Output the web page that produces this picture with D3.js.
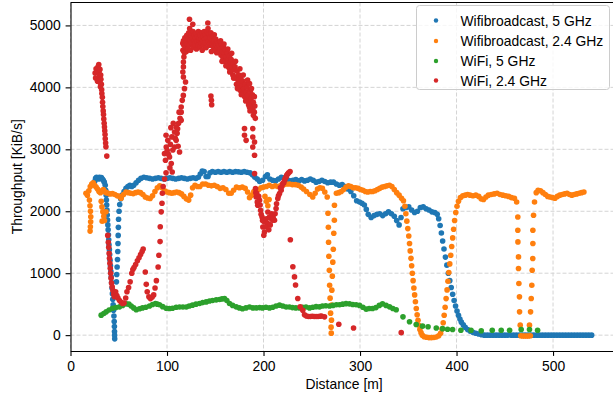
<!DOCTYPE html>
<html><head><meta charset="utf-8">
<script src="https://cdn.jsdelivr.net/npm/d3@7"></script>
<style>
body{margin:0;background:#fff}
svg{display:block}
text{font-family:"Liberation Sans",Arial,Helvetica,sans-serif;fill:#000}
</style>
</head><body>
<svg id="c" width="613" height="396"></svg>
<script>
const seriesNames = ["Wifibroadcast, 5 GHz","Wifibroadcast, 2.4 GHz","WiFi, 5 GHz","WiFi, 2.4 GHz"];
const seriesColors = ["#1f77b4","#ff7f0e","#2ca02c","#d62728"];
const xTicks = [0,100,200,300,400,500];
const yTicks = [0,1000,2000,3000,4000,5000];
const xLabel = "Distance [m]";
const yLabel = "Throughput [KiB/s]";

const wbc5 = [
[25,2480],[26,2530],[27,2550],[28,2540],[29,2520],[30,2550],[31,2530],[32,2545],[33,2520],[34,2500],[35,2470],[36,2420],
[36.5,2340],[37,2260],[37.2,2180],[37.5,2100],[37.8,2020],[38.1,1940],[38.4,1860],[38.7,1780],[39,1700],[39.3,1620],[39.6,1540],[39.9,1460],[40.3,1380],[40.6,1300],[41,1210],[41.4,1120],[41.8,1030],[42.2,940],[42.6,850],[43,760],[43.4,670],[43.8,580],[44.2,490],[44.6,400],[45,310],[45.3,220],[45.5,140],[45.6,60],[45.7,0],[45.8,-60],
[47.6,860],[47.9,980],[48.3,1100],[48.7,1220],[49,1350],[49.2,1480],[49.4,1610],[49.6,1740],[49.8,1870],[50.3,2000],[51,2110],[52,2200],[53.5,2260],[55.5,2320],[57.5,2370],[59.5,2400],[61.5,2420],[63.5,2400],[65.5,2420],[68,2460],[70.5,2500],[73,2530],
[76,2550],[79,2540],[82,2530],[85,2520],[88,2530],[91,2540],[94,2530],[97,2520],[100,2530],[103,2540],[106,2530],[109,2520],[112,2530],[115,2540],[118,2530],[121,2520],[124,2530],[127,2540],[130,2530],[132.5,2550],
[134.5,2600],[136.5,2650],[138.5,2640],[140.5,2560],[142.5,2560],[144.5,2620],
[147,2640],[150,2630],[153,2640],[156,2630],[159,2640],[162,2630],[165,2640],[168,2630],[171,2640],[174,2635],[177,2630],[180,2640],[183,2630],[186,2620],[188.5,2590],[191,2550],[193.5,2520],[196,2480],[199,2500],[202,2560],[204,2590],[206.5,2520],[209.5,2500],[212.5,2490],[215.5,2520],[218.5,2550],[221.5,2540],[224.5,2510],[227.5,2490],[230.5,2500],[233.5,2510],[236.5,2490],
[239.5,2510],[242.5,2490],[245.5,2500],[248.5,2520],[251.5,2500],[254.5,2470],[257.5,2480],[260.5,2500],[263.5,2480],[266.5,2460],[269.5,2470],[272.5,2470],[275.5,2440],[278.5,2420],[281.5,2430],[284.5,2400],[287.5,2360],[290.5,2320],[293.5,2250],[296.5,2170],[299.5,2150],[302,2130],[304.5,2100],[306.5,2030],[308.5,1950],
[311.5,1900],[314.5,1930],[317.5,1950],[320.5,1960],[323.5,1930],[326.5,1960],[329.5,1990],[332.5,1960],[335.5,1920],[338,1850],[340.5,1780],[342.5,1900],[344.5,2040],[347.5,2060],[350.5,2070],[353.5,2020],[356.5,1980],[359.5,2000],[362.5,2060],[365.5,2070],[368.5,2040],[371.5,2020],[374.5,1990],[377.5,1980],[380,1950],
[381.5,1880],[383,1770],[384.3,1650],[385.6,1520],[387,1390],[388.5,1260],[390,1130],[391.5,1000],[393,880],[394.5,770],[396,660],[397.5,560],[399,470],[400.5,390],[402,320],[403.5,260],[405,210],[407,165],[409,125],[411.5,90],[414,65],[417,45],[420,30],[423,18],[426,8],
[429,0],[432,0],[435,0],[438,0],[441,0],[444,0],[447,0],[450,0],[453,0],[456,0],[459,0],[462,0],[465,0],[468,0],[471,0],[474,0],[477,0],[480,0],[483,0],[486,0],[489,0],[492,0],[495,0],[498,0],[501,0],[504,0],[507,0],[510,0],[513,0],[516,0],[519,0],[522,0],[525,0],[528,0],[531,0],[534,0],[537,0],[540,0]
];

const wbc24 = [
[16,2290],[17.5,2260],[19,2330],[20.5,2400],[22,2440],[23.5,2460],[25,2420],[26.5,2390],[28,2360],[29.5,2320],[31,2300],[32.5,2330],[34,2350],[35.5,2320],[37,2300],
[19.6,2180],[20.2,2090],[20.7,2000],[21,1910],[20.9,1830],[20.6,1750],[20.3,1680],
[31.8,2160],[32.6,2070],[33.5,1990],[34.5,1920],[32.8,1840],[35.2,1850],[36.8,1990],
[39,2290],[41,2280],[43.5,2285],[46,2270],[48.5,2250],[50.8,2240],[52.5,2210],[55,2270],[57.5,2310],[60,2300],[62.5,2290],[65,2285],[67.5,2300],[70,2310],[72.5,2300],[75,2270],[77.5,2230],[80,2215],[82.5,2205],[85,2250],[87.5,2320],[90,2380],[92.5,2410],[95,2380],[97.5,2330],[100,2310],[102.5,2300],[105,2290],[107.5,2300],[110,2310],[112.5,2300],[115,2280],[117.5,2240],[120,2200],[122.5,2180],[124.5,2260],[126.5,2380],[129,2420],[131.5,2400],[134,2400],[137,2440],[140,2440],[143,2420],[146,2410],[149,2420],[152,2400],[155,2370],[158,2380],[161,2350],[164,2290],[166.5,2290],[169,2340],[172,2390],[175,2380],[178,2390],[181,2370],[183.5,2310],[185.5,2220],[187.5,2260],[190,2320],[192.5,2340],[195,2350],[197.5,2380],[200,2390],[203,2400],[206,2420],[209,2400],[212,2410],[215,2400],[218,2420],[221,2430],[224,2440],[227,2440],[230,2430],[233,2430],[236,2420],[239,2390],[241.5,2360],[244.5,2320],[248,2270],[251,2230],[253.5,2290],[256,2360],[258.5,2380],[261,2370],[263.5,2310],[266,2230],
[201.5,2240],[203,2160],[204.5,2090],[205.8,2190],
[266.8,1968],[267.2,1742],[267.4,1500],[267.7,1274],[268.2,1048],[268.5,806],[269,597],[269.5,355],[270,129],
[273.5,2097],[273.4,1855],[272.8,1645],[272.3,1387],[271.8,1178],[271.3,952],[270.8,726],[270.5,484],[270.4,242],[270.2,32],
[275.5,2290],[278,2300],[280.5,2320],[283,2350],[285.5,2390],[288,2410],[290.5,2400],[293,2380],[295.5,2380],[298,2370],[300.5,2350],[303,2340],[305.5,2320],[308,2310],[310.5,2320],[313,2320],[315.5,2330],[318,2350],[320.5,2370],[323,2390],[325.5,2400],[328,2410],[330.5,2420],[333,2400],[335.5,2350],[338,2300],[340.5,2260],[343,2210],[345,2170],
[346.5,2080],[347.5,1960],[348.5,1840],[349.5,1720],[350.5,1600],[351.3,1480],[352,1360],[352.8,1240],[353.5,1120],[354.2,1000],[355,880],[355.8,760],[356.6,650],[357.4,540],[358.3,430],[359.2,330],[360.1,240],[361,160],[362,90],[363.2,40],[364.5,0],[366.5,-25],[369,-35],[371.5,-40],[374,-40],[376.5,-38],[379,-30],[381.5,-10],[383.5,30],[385,100],[386.2,200],[387.2,320],[388.2,450],[389.2,590],[390.2,730],[391.1,870],[392,1010],[393,1150],[394,1290],[395,1430],[396,1570],[397,1710],[398,1850],[399.2,1980],[400.5,2080],[402,2160],[404,2220],[406.5,2250],[409,2260],[411.5,2270],[414,2260],[417,2250],[420,2260],[423,2240],[425.5,2200],[428,2190],[430.5,2230],[433,2260],[436,2270],[439,2280],[442,2290],[445,2270],[448,2260],[451,2250],[454,2240],[457,2220],[460,2210],[462.3,2150],
[463.5,1908],[463.5,1694],[463.6,1505],[464.2,1263],[464.2,1075],[464.6,834],[465.2,618],[465.3,376],[466,161],
[466.5,-10],[468.5,-15],[470.5,-15],[472.5,-15],[474.5,-15],[476.5,-10],
[479.8,1936],[479.1,1694],[479.1,1479],[479,1237],[478.4,1048],[478,806],[477.4,592],[476.7,376],[475.6,161],
[480.8,2150],[482.6,2300],[484.5,2340],[487,2330],[489.5,2300],[492,2270],[494.5,2240],[497,2230],[499.5,2220],[502,2210],[504.5,2240],[507,2260],[509.5,2270],[512,2280],[514.5,2290],[517,2270],[519.5,2260],[522,2270],[524.5,2280],[527,2290],[529.5,2300],[532,2310]
];

const wifi5 = [
[31.8,323],[34.5,350],[37,376],[40,405],[43.5,435],[47,447],[50.8,457],[54,480],[57.7,505],[60.5,500],[62.9,470],[65.5,440],[68.1,410],[71.5,425],[74.6,440],[78,450],[81.9,470],[85,495],[88,510],[90,500],[92.2,490],[95.5,460],[99.2,435],[102.5,430],[105.7,435],[109.5,450],[113,455],[116.5,455],[120,455],[123,470],[126.4,484],[130,500],[133.7,511],[137,525],[140.6,537],[144,550],[147.2,560],[151,570],[154.4,575],[157,585],[159.6,592],[162,560],[164.8,511],[168,480],[171.7,457],[175,440],[178.2,425],[181.8,440],[185.5,455],[189,440],[192.4,440],[196,445],[199,440],[202.5,450],[206.2,440],[209.5,450],[213,470],[216.6,484],[220,470],[223.5,455],[226.9,455],[230,445],[233.5,440],[237.3,440],[240.5,450],[244,455],[247.7,440],[251,450],[254.5,460],[258,457],[261,470],[264.5,475],[268.4,470],[272,480],[275.5,490],[278.8,490],[282,500],[285.5,508],[289.1,505],[292.5,495],[296,490],[299.5,480],[303,450],[306.4,420],[309.5,430],[313,430],[316.5,445],[320,480],[323.3,505],[327,480],[330.6,457],[334,430],[337.5,410],
[344.5,295],[351.3,215],[358.2,172],[364.8,145],[370.5,135],[379,115],[385.5,105],[390.7,95],[395.9,92],[404.5,80],[415,80],[425.6,72],[437,80],[446.3,80],[455,80],[467,90],[475.6,90],[484,80]
];

const wifi24 = [
[25.5,4230],[26,4150],[26.5,4300],[27.5,4260],[28,4100],[28.5,4330],[29.3,4370],[29.5,4240],[30,4180],[30.5,4290],[30.5,4080],[31.3,4200],[31.5,4130],[32,4050],[31,4010],[32.3,3960],
[32.5,3900],[33,3840],[33.2,3760],[33.5,3690],[33.9,3620],[34.2,3560],[34.5,3490],[34.9,3420],[35.2,3360],[35.5,3300],[35.8,3240],[36,3170],[36.4,3100],[36.7,3040],[37.6,2890],
[38.6,1610],[39.2,1500],[39.6,1420],[40,1320],[40.4,1240],[40.8,1160],[41.2,1080],[41.6,1000],[42,920],[42.5,840],[43.2,780],[44,720],[44.8,660],[45.5,620],[46.8,700],[48,640],[49.2,600],[50.8,560],[52.5,530],[54,510],[55.5,520],[57.2,600],[58.5,700],[60.2,770],[61.8,860],[63.5,1000],[64.6,1060],[65.8,1090],[67.5,1140],[69.3,1200],[71,1250],[72.6,1300],[74.2,1350],[75.3,1390],[77.5,1020],[78.5,820],[79.5,700],[81.2,620],[82.8,590],[84.5,610],[86.2,650],[87.6,760],[89,880],[90.8,1100],[91.6,1290],[92.8,1510],[93,1750],[94,1990],[94.8,2130],[95.2,2290],[96,2400],[97.5,2520],[99,2620],
[97.4,2930],[98.4,2823],[99,3226],[99.2,3037],[100.2,2980],[100.8,3145],[101.5,2920],[102.6,2876],[103,2700],[103.5,3080],[104.4,2769],[105,3200],[105.4,2634],[106,2990],[107.8,3037],[107.8,3280],[108.5,3180],[109.5,3145],[109.5,3360],[110.5,3260],[111,3330],[112,3420],[113,2957],[113.5,3500],[114.7,3468],[114.7,3600],[114.7,3683],[115.8,3790],[116.9,3870],[118.1,3979],[119.2,4086],[117,4167],[116.4,4247],[117,4330],[117,4408],[117.5,4490],[118.1,4570],[116.4,4710],
[104,3350],[106.5,3420],[111.5,3050],[112.5,3600],
[116.5,4600],[117,4750],[117.5,4680],[118,4560],[118.5,4800],[119,4650],[119.5,4720],[120,4580],[120.5,4840],[121,4700],[121.5,4620],[122,4780],[122.5,4880],[123.3,5100],[123.5,4950],[123,4680],[124,4760],[124.5,4600],[125,4850],[125.5,4720],[126,4800],[126.7,5020],[127,4900],[127.5,4650],[128,4760],[128.5,4850],[129,4700],[129.5,4800],[130,4870],[130.5,4620],[131,4740],[131.5,4820],[132,4680],[132.5,4900],[133,4760],[133.5,4800],[134,4650],[134.5,4850],[135,4720],[135.5,4780],[136,4880],[136.5,4600],[137,4750],[137.5,4820],[138,4680],[138.5,4900],[139,4780],[139.5,4720],[140,4850],[140.5,4640],[141,4800],[141.5,4900],[142.3,5040],[142.5,4950],[143,4750],[143.5,4850],[144,4680],[144.5,4800],[145,4720],[145.5,4880],[146,4580],[146.5,4780],[147,4700],[147.5,4820],[148,4650],[148.5,4750],[149,4850],[149.5,4700],[150,4600],[150.5,4780],[151,4690],[151.5,4560],[152,4740],[152.5,4650],[153,4710],[153.5,4570],[154,4680],
[155,4620],[156,4520],[156.5,4700],[157.5,4580],[158,4480],[158.5,4650],[159.5,4550],[160,4420],[160.5,4600],[161.3,4500],[162,4380],[162.5,4560],[163.5,4450],[164,4320],[164.8,4500],[165.5,4400],[166,4260],[166.5,4450],[167.5,4330],[168.2,4200],[168.5,4380],[169.5,4280],[170,4150],[170.5,4330],[171.7,4170],[172,4050],[172.5,4260],[173.5,4120],[174,4000],[174.5,4200],[175.1,4060],[176,3950],[176.5,4150],[177.5,4020],[178.5,3900],[178.5,4100],[179.5,3980],[180.5,3850],[181,4050],[182,3920],[182.5,3800],[183,4000],[184,3870],[185,3760],[185.5,4060],[186.5,3950],[187,3820],[187.5,3700],[188.5,3880],[189,3640],[189.5,3760],[190.5,3600],[191,3700],
[155.5,4750],[157,4420],[159,4700],[161,4350],[163,4620],[165,4250],[167,4550],[169,4150],[171,4420],[173,3980],[175.5,4300],[177,3880],[179,4200],[181.5,3780],[183.5,4120],[185.5,3680],[187.5,3980],[189.5,3550],[190.5,3850],[191.5,3500],[186,3620],[184.5,3720],
[180.3,3334],[180.3,3226],[182,3145],[188.9,3334],[188.9,3199],[190.7,3118],[188.9,3037],[190.7,2904],[190.7,2608],[145.5,3860],[146,3790],[146.3,3720],
[191.7,2366],[193,2285],[192.4,2231],[195.9,2178],[194,2097],[197,2016],[198.5,1908],[201,1828],[199.3,1747],[201,1666],[200.3,1613],[204.5,1800],[206.2,1908],[204.5,1989],[207.8,1882],[209.5,1855],[211.4,1855],[213,2043],[214.8,2205],[216.6,2285],[218.3,2339],[220,2447],[221.8,2500],[223.5,2553],[225,2600],
[192,2300],[193.5,2150],[195,2240],[196.5,2100],[197.5,1950],[199,1850],[202.5,1750],[203,1880],[205.5,1700],[207,1780],[208.5,1960],[210,1900],[212,1960],[213.5,2120],[215.5,2250],[217.5,2380],[219,2400],[221,2460],[222.5,2530],[224,2580],[226,2620],[227.5,2640],
[227.8,1540],[230.4,1105],[232.1,940],[233.2,810],[235.5,592],[238,457],[240.7,403],[242.5,330],[244.5,310],[246.5,300],[248.5,300],[250.5,305],[252.5,300],[254.5,300],[256.5,300],[258.5,305],[260,310],[263.2,295],[278,177],[293.3,115],[342.7,40]
];

const seriesData = [wbc5, wbc24, wifi5, wifi24];

const svg = d3.select("#c");
const L = 70.5, R = 617.7, T = 2.5, B = 351;
const x = d3.scaleLinear().domain([0, 567]).range([L, R]);
const y = d3.scaleLinear().domain([-256, 5370]).range([B, T]);
const fs = "13.9px";

// grid
const g = svg.append("g");
g.selectAll("line.gx").data(xTicks).enter().append("line")
  .attr("x1", d => x(d)).attr("x2", d => x(d)).attr("y1", T).attr("y2", B)
  .attr("stroke", "#d4d4d4").attr("stroke-width", 1).attr("stroke-dasharray", "4,2");
g.selectAll("line.gy").data(yTicks).enter().append("line")
  .attr("x1", L).attr("x2", R).attr("y1", d => y(d)).attr("y2", d => y(d))
  .attr("stroke", "#d4d4d4").attr("stroke-width", 1).attr("stroke-dasharray", "4,2");

// points
seriesData.forEach((data, i) => {
  svg.append("g").selectAll("circle").data(data).enter().append("circle")
    .attr("cx", d => x(d[0])).attr("cy", d => y(d[1])).attr("r", 2.8)
    .attr("fill", seriesColors[i]);
});

// axes
const xa = svg.append("g").attr("transform", `translate(0,${B})`)
  .call(d3.axisBottom(x).tickValues(xTicks).tickSize(4.9).tickSizeOuter(0).tickPadding(4.9).tickFormat(d3.format("d")));
const ya = svg.append("g").attr("transform", `translate(${L},0)`)
  .call(d3.axisLeft(y).tickValues(yTicks).tickSize(4.9).tickSizeOuter(0).tickPadding(4.9).tickFormat(d3.format("d")));
[xa, ya].forEach(a => {
  a.selectAll("text").style("font-size", fs).attr("fill", "#000");
  a.selectAll("line").attr("stroke", "#000").attr("stroke-width", 1.1);
  a.select(".domain").attr("stroke", "#000").attr("stroke-width", 1.1);
});
// top & right spines
svg.append("line").attr("x1", L).attr("x2", R).attr("y1", T).attr("y2", T).attr("stroke", "#000").attr("stroke-width", 1.1);
svg.append("line").attr("x1", R).attr("x2", R).attr("y1", T).attr("y2", B).attr("stroke", "#000").attr("stroke-width", 1.1);

// labels
svg.append("text").attr("x", (L + R) / 2).attr("y", 389).attr("text-anchor", "middle").style("font-size", fs).text(xLabel);
svg.append("text").attr("transform", `translate(22,${(T + B) / 2}) rotate(-90)`).attr("text-anchor", "middle").style("font-size", fs).text(yLabel);

// legend
const lg = svg.append("g");
lg.append("rect").attr("x", 416.5).attr("y", 5.5).attr("width", 193).attr("height", 84).attr("rx", 3)
  .attr("fill", "#fff").attr("fill-opacity", 0.8).attr("stroke", "#cccccc").attr("stroke-width", 1);
const rows = [20.5, 41, 61, 80.5];
seriesNames.forEach((n, i) => {
  lg.append("circle").attr("cx", 436).attr("cy", rows[i]).attr("r", 2.2).attr("fill", seriesColors[i]);
  lg.append("text").attr("x", 460.5).attr("y", rows[i] + 5).style("font-size", fs).text(n);
});
</script>
</body></html>
